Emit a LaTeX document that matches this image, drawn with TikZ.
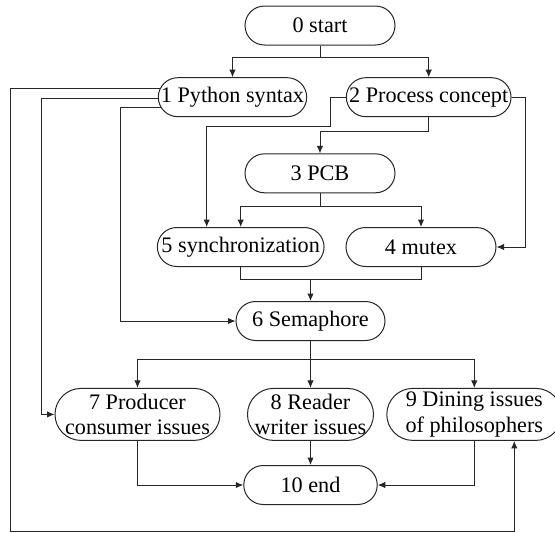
\documentclass[tikz,border=0pt]{standalone}
\usepackage{fontspec}
\setmainfont{Liberation Serif}
\usetikzlibrary{arrows.meta}
\begin{document}
\begin{tikzpicture}[x=1pt,y=-1pt,
  box/.style={draw=black!85, line width=1pt, rounded corners=19.5pt, inner sep=0pt,
    minimum height=39pt, font=\fontsize{22.2}{25.6}\selectfont, align=center},
  tall/.style={rounded corners=26pt, minimum height=52pt},
  arr/.style={draw=black!85, line width=1pt, -{Latex[length=7.5pt,width=6.5pt]}},
  ln/.style={draw=black!85, line width=1pt}]
\clip (0,0) rectangle (555,533);
\node[box, minimum width=150pt] (n0) at (320,25.5) {0 start};
\node[box, minimum width=148.4pt] (n1) at (232.5,97.2) {1 Python syntax};
\node[box, minimum width=164.7pt] (n2) at (428.7,97.2) {2 Process concept};
\node[box, minimum width=150pt] (n3) at (320,173.3) {3 PCB};
\node[box, minimum width=166.7pt] (n5) at (240.7,247) {5 synchronization};
\node[box, minimum width=150pt] (n4) at (421,247) {4 mutex};
\node[box, minimum width=149pt] (n6) at (310.5,321) {6 Semaphore};
\node[box, tall, minimum width=165pt] (n7) at (137.5,414.4) {7 Producer\\consumer issues};
\node[box, tall, minimum width=126pt] (n8) at (310.5,414.4) {8 Reader\\writer issues};
\node[box, tall, minimum width=175pt] (n9) at (474.3,414.4) {9 Dining issues\\of philosophers};
\node[box, minimum width=133.5pt] (n10) at (310.5,485) {10 end};

\draw[arr] (n0.south) -- ++(0,12.2) -| (n1.north);
\draw[arr] (n0.south) -- ++(0,12.2) -| (n2.north);

\draw[arr] ([shift={(2.2,-9.2)}]n1.west) -| (10,531) -| ([xshift=40]n9.south);
\draw[arr] ([shift={(0.1,0.8)}]n1.west) -| ([xshift=-12.9]n7.west) -- (n7.west);
\draw[arr] ([shift={(3.1,10.5)}]n1.west) -| ([xshift=-115]n6.west) -- (n6.west);

\coordinate (a5) at ([xshift=-34]n5.north);
\draw[arr] (n2.west) -- ++(-15.6,0) -- ++(0,29.5) -| (a5);
\draw[arr] (n2.south) -- ++(0,14) -| (n3.north);
\draw[arr] (n2.east) -- ++(13.7,0) |- (n4.east);

\draw[arr] (n3.south) -- ++(0,13.3) -| (n5.north);
\draw[arr] (n3.south) -- ++(0,13.3) -| (n4.north);

\draw[ln] (n5.south) -- ++(0,12.8) -| (n4.south);
\coordinate (j56) at (n6.north |- 0,279.3);
\draw[arr] (j56) -- (n6.north);

\draw[arr] (n6.south) -- ++(0,18.5) -| (n7.north);
\draw[arr] (n6.south) -- (n8.north);
\draw[arr] (n6.south) -- ++(0,18.5) -| (n9.north);

\draw[arr] (n7.south) |- (n10.west);
\draw[arr] (n8.south) -- (n10.north);
\draw[arr] (n9.south) |- (n10.east);
\end{tikzpicture}
\end{document}
